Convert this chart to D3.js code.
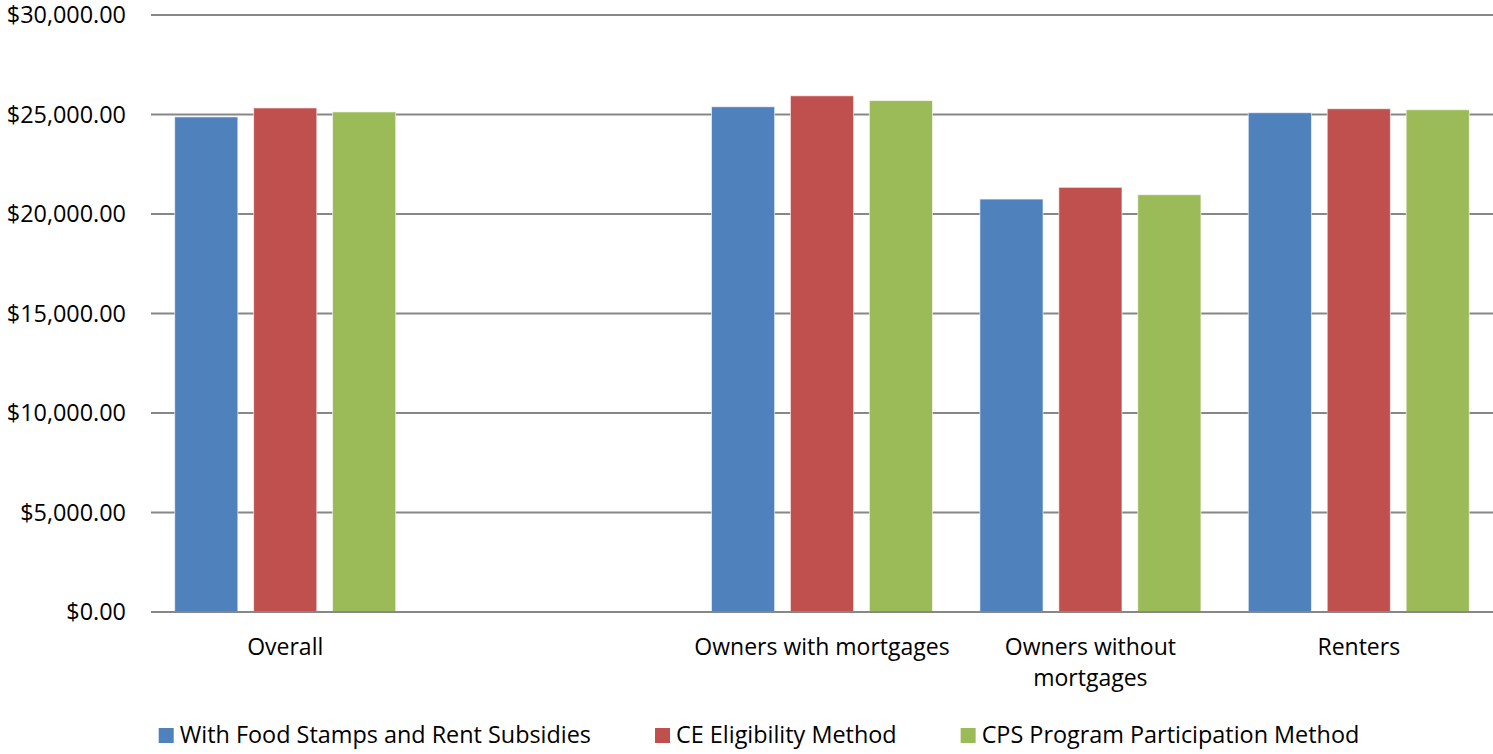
<!DOCTYPE html>
<html>
<head>
<meta charset="utf-8">
<script src="https://cdn.jsdelivr.net/npm/d3@7"></script>
<style>
    body { margin: 0; background: #fff; }
    #chart-area { width: 1493px; height: 754px; }
    text { font-family: "Open Sans", sans-serif; fill: #000; }
</style>
</head>
<body>
<div id="chart-area"></div>
<script>

// categories (the blank one is an empty slot in the original chart)
const categories = ["Overall", "", "Owners with mortgages", "Owners without mortgages", "Renters"];
const categoryLabels = [["Overall"], [""], ["Owners with mortgages"], ["Owners without", "mortgages"], ["Renters"]];

const seriesNames = ["With Food Stamps and Rent Subsidies", "CE Eligibility Method", "CPS Program Participation Method"];
const seriesColors = ["#4F81BD", "#C0504D", "#9BBB59"];

// values per category, null = no bar
const foodStampsRent = [24880, null, 25390, 20750, 25090];
const ceEligibility  = [25330, null, 25940, 21340, 25290];
const cpsProgram     = [25130, null, 25700, 20970, 25240];

const yTicks = [0, 5000, 10000, 15000, 20000, 25000, 30000];


class BarVis {

    constructor(parentElement){
        this.parentElement = parentElement;
        this.series = [foodStampsRent, ceEligibility, cpsProgram];
        this.initVis();
    }

    initVis(){
        let vis = this;

        vis.margin = {top: 15, right: 0, bottom: 142, left: 151};
        vis.width = 1493 - vis.margin.left - vis.margin.right;
        vis.height = 754 - vis.margin.top - vis.margin.bottom;

        vis.svg = d3.select("#" + vis.parentElement).append("svg")
            .attr("width", 1493)
            .attr("height", 754)
            .append("g")
            .attr("transform", `translate(${vis.margin.left}, ${vis.margin.top})`);

        // scales
        vis.x0 = d3.scaleBand()
            .domain(d3.range(categories.length))
            .range([0, vis.width])
            .padding(0);

        vis.x1 = d3.scaleBand()
            .domain(d3.range(seriesNames.length))
            .range([0, vis.x0.bandwidth()])
            .paddingInner(0.2)
            .paddingOuter(0.3);

        vis.y = d3.scaleLinear()
            .domain([0, 30000])
            .range([vis.height, 0]);

        // gridlines
        vis.svg.append("g")
            .attr("class", "grid")
            .selectAll("line")
            .data(yTicks)
            .join("line")
            .attr("x1", 0)
            .attr("x2", vis.width)
            .attr("y1", d => vis.y(d))
            .attr("y2", d => vis.y(d))
            .attr("stroke", "#878787")
            .attr("stroke-width", 2);

        // y axis labels only
        vis.yAxis = d3.axisLeft(vis.y)
            .tickValues(yTicks)
            .tickFormat(d3.format("$,.2f"))
            .tickSize(0)
            .tickPadding(25);

        vis.svg.append("g")
            .attr("class", "y-axis")
            .call(vis.yAxis)
            .call(g => g.select(".domain").remove())
            .selectAll("text")
            .attr("font-size", "23.4px")
            .attr("font-family", "Open Sans, sans-serif")
            .attr("fill", "#000");

        vis.updateVis();
    }

    updateVis(){
        let vis = this;

        let barData = [];
        categories.forEach((c, i) => {
            vis.series.forEach((s, j) => {
                if (s[i] !== null) barData.push({cat: i, ser: j, value: s[i]});
            });
        });

        vis.svg.selectAll(".bar")
            .data(barData)
            .join("rect")
            .attr("class", "bar")
            .attr("x", d => vis.x0(d.cat) + vis.x1(d.ser))
            .attr("y", d => vis.y(d.value))
            .attr("width", vis.x1.bandwidth())
            .attr("height", d => vis.y(0) - vis.y(d.value))
            .attr("fill", d => seriesColors[d.ser])
            .attr("stroke", "rgba(255,255,255,0.6)")
            .attr("stroke-width", 1);

        // baseline on top of bars
        vis.svg.append("line")
            .attr("x1", 0)
            .attr("x2", vis.width)
            .attr("y1", vis.y(0))
            .attr("y2", vis.y(0))
            .attr("stroke", "#878787")
            .attr("stroke-width", 2);

        // category labels
        let catLabels = vis.svg.append("g")
            .attr("class", "x-labels")
            .selectAll("text")
            .data(categoryLabels)
            .join("text")
            .attr("text-anchor", "middle")
            .attr("font-size", "23px")
            .attr("transform", (d, i) => `translate(${vis.x0(i) + vis.x0.bandwidth() / 2}, ${vis.height + 43})`);

        catLabels.selectAll("tspan")
            .data(d => d)
            .join("tspan")
            .attr("x", 0)
            .attr("dy", (d, i) => i === 0 ? 0 : 31)
            .text(d => d);

        // legend
        let legend = d3.select("#" + vis.parentElement).select("svg")
            .append("g")
            .attr("class", "legend");

        let items = legend.selectAll("g")
            .data(seriesNames)
            .join("g");

        items.append("rect")
            .attr("width", 15)
            .attr("height", 15)
            .attr("y", -15)
            .attr("fill", (d, i) => seriesColors[i]);

        items.append("text")
            .attr("x", 21)
            .attr("font-size", "23.4px")
            .text(d => d);

        let widths = [];
        items.each(function(){ widths.push(this.getBBox().width); });
        let gap = 64;
        let total = d3.sum(widths) + gap * (widths.length - 1);
        let xPos = 759 - total / 2;
        items.attr("transform", (d, i) => {
            let t = `translate(${xPos}, 743)`;
            xPos += widths[i] + gap;
            return t;
        });
    }
}

new BarVis("chart-area");

</script>
</body>
</html>
